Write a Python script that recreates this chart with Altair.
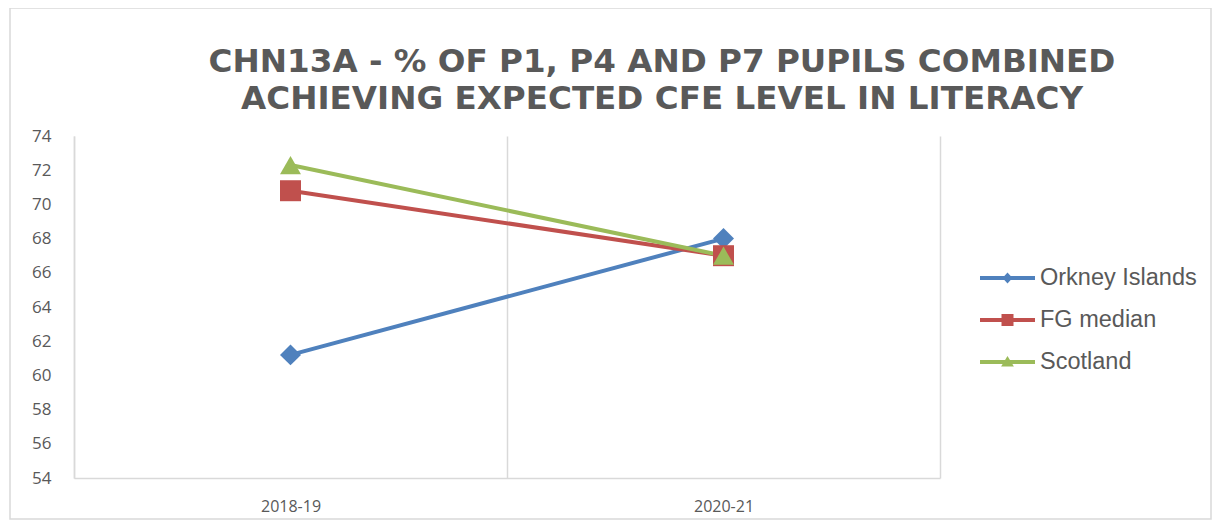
import altair as alt
import pandas as pd

# ---- data ----
years = ["2018-19", "2020-21"]
series = ["Orkney Islands", "FG median", "Scotland"]
orkney = [61.2, 68.0]
fg_median = [70.8, 67.0]
scotland = [72.3, 67.0]
y_ticks = [54, 56, 58, 60, 62, 64, 66, 68, 70, 72, 74]
title_lines = ["CHN13A - % OF P1, P4 AND P7 PUPILS COMBINED",
               "ACHIEVING EXPECTED CFE LEVEL IN LITERACY"]

rows = []
for name, vals in zip(series, [orkney, fg_median, scotland]):
    for yr, v in zip(years, vals):
        rows.append({"year": yr, "series": name, "value": v})
df = pd.DataFrame(rows)

colors = ["#4F81BD", "#C0504D", "#9BBB59"]
grid_col = "#D9D9D9"
text_col = "#595959"

# legend symbols: line segment + marker (custom paths, unit = sqrt(size)/2)
leg_shapes = [
    "M-1.375,-0.1L1.375,-0.1L1.375,0.1L-1.375,0.1Z M0,-0.27L0.25,0L0,0.27L-0.25,0Z",
    "M-1.375,-0.1L1.375,-0.1L1.375,0.1L-1.375,0.1Z M-0.3,-0.3L0.3,-0.3L0.3,0.3L-0.3,0.3Z",
    "M-1.375,-0.1L1.375,-0.1L1.375,0.1L-1.375,0.1Z M0,-0.3L0.32,0.22L-0.32,0.22Z",
]

x_axis = alt.Axis(labelAngle=0, labelFont="Open Sans", labelFontSize=16,
                  labelColor=text_col, labelPadding=20, ticks=False,
                  domain=True, domainColor=grid_col, domainWidth=1.5,
                  grid=True, gridColor=grid_col, gridWidth=1.5,
                  tickBand="extent")
x_scale = alt.Scale(paddingInner=0, paddingOuter=0)
y_axis = alt.Axis(orient="left", values=y_ticks, labelFont="Open Sans",
                  labelFontSize=17, labelColor=text_col, labelPadding=23,
                  labelOverlap=False, ticks=False, grid=False, domain=True,
                  domainColor=grid_col, domainWidth=1.5)
y_scale = alt.Scale(domain=[54, 74], nice=False, zero=False)


def x_enc():
    return alt.X("year:N", sort=years, title=None, scale=x_scale, axis=x_axis)


def y_enc():
    return alt.Y("value:Q", title=None, scale=y_scale, axis=y_axis)


color_scale = alt.Scale(domain=series, range=colors)

base = alt.Chart(df)

lines = base.mark_line(strokeWidth=4).encode(
    x=x_enc(), y=y_enc(),
    color=alt.Color("series:N", scale=color_scale, legend=None),
)

points = base.mark_point(filled=True, opacity=1, size=440).encode(
    x=x_enc(), y=y_enc(),
    color=alt.Color("series:N", scale=color_scale, legend=None),
    shape=alt.Shape("series:N",
                    scale=alt.Scale(domain=series,
                                    range=["diamond", "square", "triangle-up"]),
                    legend=None),
)

legend_layer = base.mark_point(filled=True, opacity=1).encode(
    x=x_enc(), y=y_enc(),
    color=alt.Color("series:N", scale=color_scale, title=None,
                    legend=alt.Legend(orient="none", legendX=913.5,
                                      legendY=122, symbolSize=1600,
                                      symbolStrokeWidth=0, labelOffset=12.5,
                                      labelFont="Liberation Sans",
                                      labelFontSize=23.5, labelColor=text_col,
                                      rowPadding=10, padding=0,
                                      labelLimit=400)),
    shape=alt.Shape("series:N", scale=alt.Scale(domain=series, range=leg_shapes),
                    title=None),
).transform_filter("false")

frame = alt.Chart(pd.DataFrame({"f": [0]})).mark_rect(
    filled=False, stroke=grid_col, strokeWidth=1.5
).encode(
    x=alt.value(-64), x2=alt.value(1137),
    y=alt.value(-128), y2=alt.value(383),
)

chart = alt.layer(frame, lines, points, legend_layer).resolve_scale(
    color="independent", shape="independent"
).properties(
    width=866, height=342,
    title=alt.Title(title_lines, font="DejaVu Sans", fontSize=32.6,
                    fontWeight="bold", color=text_col, anchor="middle",
                    frame="group", dx=155, offset=-108, lineHeight=37),
    autosize=alt.AutoSizeParams(type="none"),
    padding={"left": 66, "top": 128, "right": 273, "bottom": 43},
).configure_view(strokeWidth=0)

chart.save("out.html", embed_options={"renderer": "svg", "actions": False})
